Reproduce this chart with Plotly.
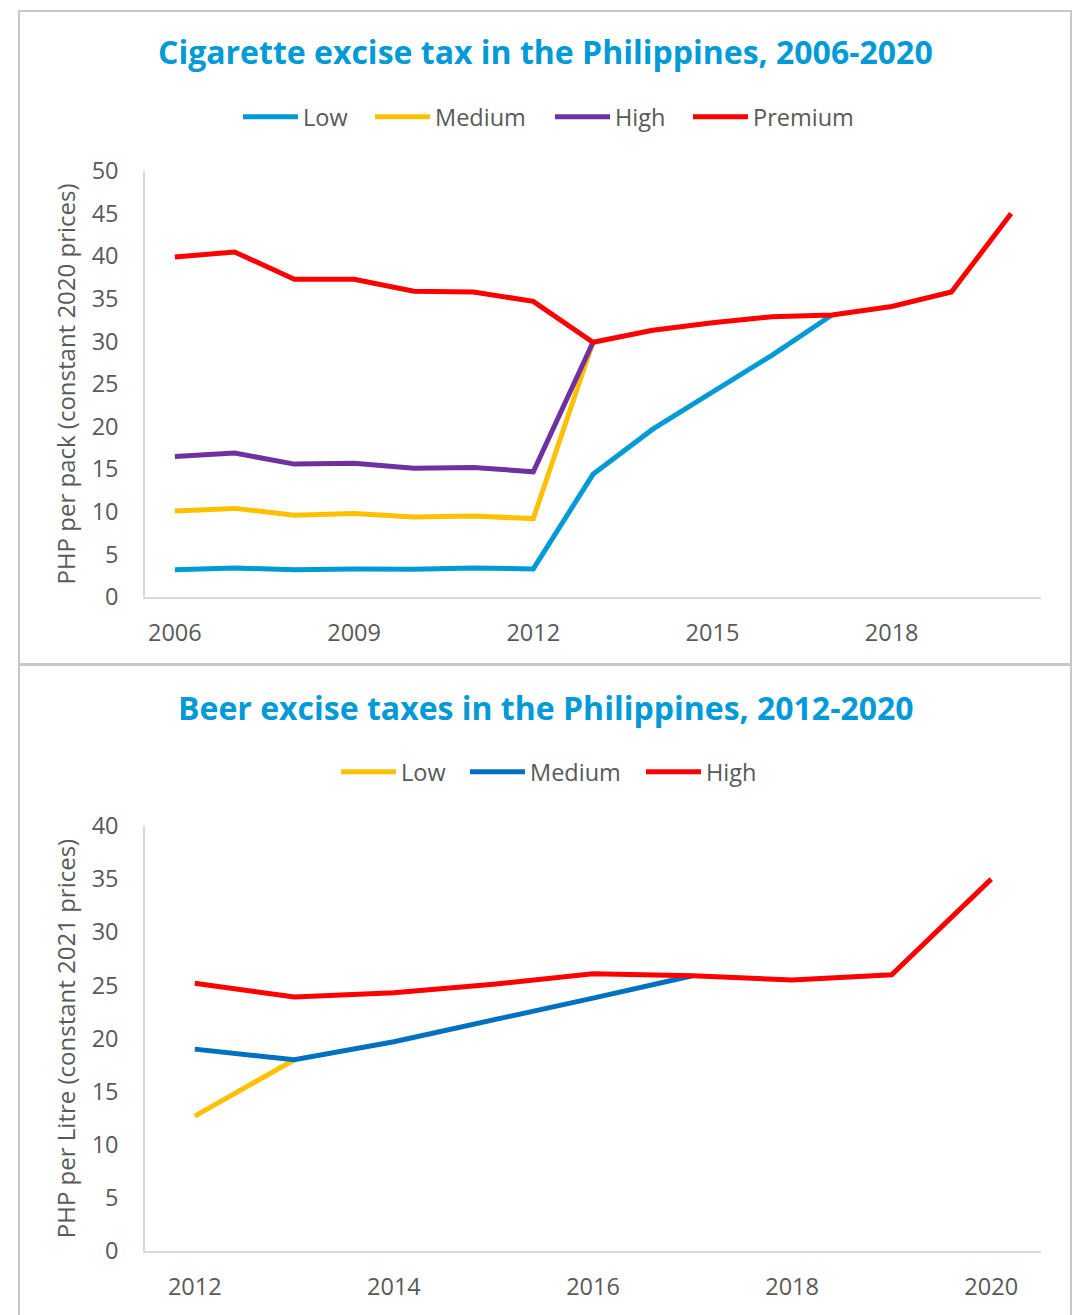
import plotly.graph_objects as go

# ---- data ----
cig_years = list(range(2006, 2021))
cig_low = [3.2, 3.4, 3.2, 3.3, 3.25, 3.4, 3.3, 14.4, 19.7, 24.1, 28.4, 33.1, None, None, None]
cig_medium = [10.1, 10.4, 9.6, 9.8, 9.4, 9.5, 9.2, 29.9, None, None, None, None, None, None, None]
cig_high = [16.5, 16.9, 15.6, 15.7, 15.1, 15.2, 14.7, 29.9, None, None, None, None, None, None, None]
cig_premium = [39.9, 40.5, 37.3, 37.3, 35.9, 35.8, 34.7, 29.9, 31.3, 32.2, 32.9, 33.1, 34.1, 35.8, 45.0]

beer_years = list(range(2012, 2021))
beer_low = [12.7, 18.0, None, None, None, None, None, None, None]
beer_medium = [19.0, 18.0, 19.7, 21.7, 23.8, 25.9, None, None, None]
beer_high = [25.2, 23.9, 24.3, 25.1, 26.1, 25.9, 25.5, 26.0, 35.0]

cig_ticks = [2006, 2009, 2012, 2015, 2018]
beer_ticks = [2012, 2014, 2016, 2018, 2020]

W, H = 1076, 1315
FONT = "Open Sans"
GRAY = "#595959"
TITLE_C = "#009AD7"
TXT = 23.5

def px(x):
    return x / W

def py(y):
    return 1 - y / H

fig = go.Figure()

cig_series = [("Low", cig_low, "#009AD7", 62), ("Medium", cig_medium, "#FFC000", 110),
              ("High", cig_high, "#7030A0", 68), ("Premium", cig_premium, "#FF0000", 110)]
for name, vals, col, lw in cig_series:
    fig.add_trace(go.Scatter(x=cig_years, y=vals, name=name, mode="lines",
                             line=dict(color=col, width=5), xaxis="x", yaxis="y",
                             legend="legend", legendwidth=lw, connectgaps=False))

beer_series = [("Low", beer_low, "#FFC000", 59), ("Medium", beer_medium, "#0070C0", 106),
               ("High", beer_high, "#FF0000", 55)]
for name, vals, col, lw in beer_series:
    fig.add_trace(go.Scatter(x=beer_years, y=vals, name=name, mode="lines",
                             line=dict(color=col, width=5), xaxis="x2", yaxis="y2",
                             legend="legend2", legendwidth=lw, connectgaps=False))

axis_common = dict(showgrid=False, zeroline=False, showline=True, linecolor="#D9D9D9",
                   linewidth=1.5, ticks="", automargin=False,
                   tickfont=dict(family=FONT, size=TXT, color=GRAY))

legend_common = dict(orientation="h", xanchor="left", yanchor="middle", itemwidth=55,
                     font=dict(family=FONT, size=TXT, color=GRAY),
                     bgcolor="rgba(0,0,0,0)", borderwidth=0)

fig.update_layout(
    width=W, height=H, margin=dict(l=0, r=0, t=0, b=0, pad=0, autoexpand=False),
    paper_bgcolor="white", plot_bgcolor="white",
    font=dict(family=FONT, color=GRAY),
    xaxis=dict(domain=[px(145), px(1041)], anchor="y", range=[2005.5, 2020.5],
               tickvals=cig_ticks, ticklabelstandoff=14, **axis_common),
    yaxis=dict(domain=[py(597), py(171)], anchor="x", range=[0, 50], dtick=5,
               ticklabelstandoff=20,
               title=dict(text="PHP per pack (constant 2020 prices)", standoff=9,
                          font=dict(family=FONT, size=24, color=GRAY)),
               **axis_common),
    xaxis2=dict(domain=[px(145), px(1041)], anchor="y2", range=[2011.5, 2020.5],
                tickvals=beer_ticks, ticklabelstandoff=14, **axis_common),
    yaxis2=dict(domain=[py(1251), py(826)], anchor="x2", range=[0, 40], dtick=5,
                ticklabelstandoff=20,
                title=dict(text="PHP per Litre (constant 2021 prices)", standoff=9,
                           font=dict(family=FONT, size=24, color=GRAY)),
                **axis_common),
    legend=dict(x=px(238), y=py(117), **legend_common),
    legend2=dict(x=px(336), y=py(772), **legend_common),
    showlegend=True,
)

fig.add_annotation(text="<b>Cigarette excise tax in the Philippines, 2006-2020</b>",
                   x=px(545.5), y=py(51.5), xref="paper", yref="paper", showarrow=False,
                   xanchor="center", yanchor="middle",
                   font=dict(family=FONT, size=32, color=TITLE_C))
fig.add_annotation(text="<b>Beer excise taxes in the Philippines, 2012-2020</b>",
                   x=px(545.5), y=py(707), xref="paper", yref="paper", showarrow=False,
                   xanchor="center", yanchor="middle",
                   font=dict(family=FONT, size=32, color=TITLE_C))

# panel borders
fig.add_shape(type="rect", xref="paper", yref="paper", x0=px(19), x1=px(1071),
              y0=py(664), y1=py(11), line=dict(color="#C8C8C8", width=2))
fig.add_shape(type="rect", xref="paper", yref="paper", x0=px(19), x1=px(1071),
              y0=py(1330), y1=py(665), line=dict(color="#C8C8C8", width=2))

fig.write_html("out.html", config={"displayModeBar": False},
               post_script="document.body.style.margin='0';document.body.style.overflow='hidden';")
